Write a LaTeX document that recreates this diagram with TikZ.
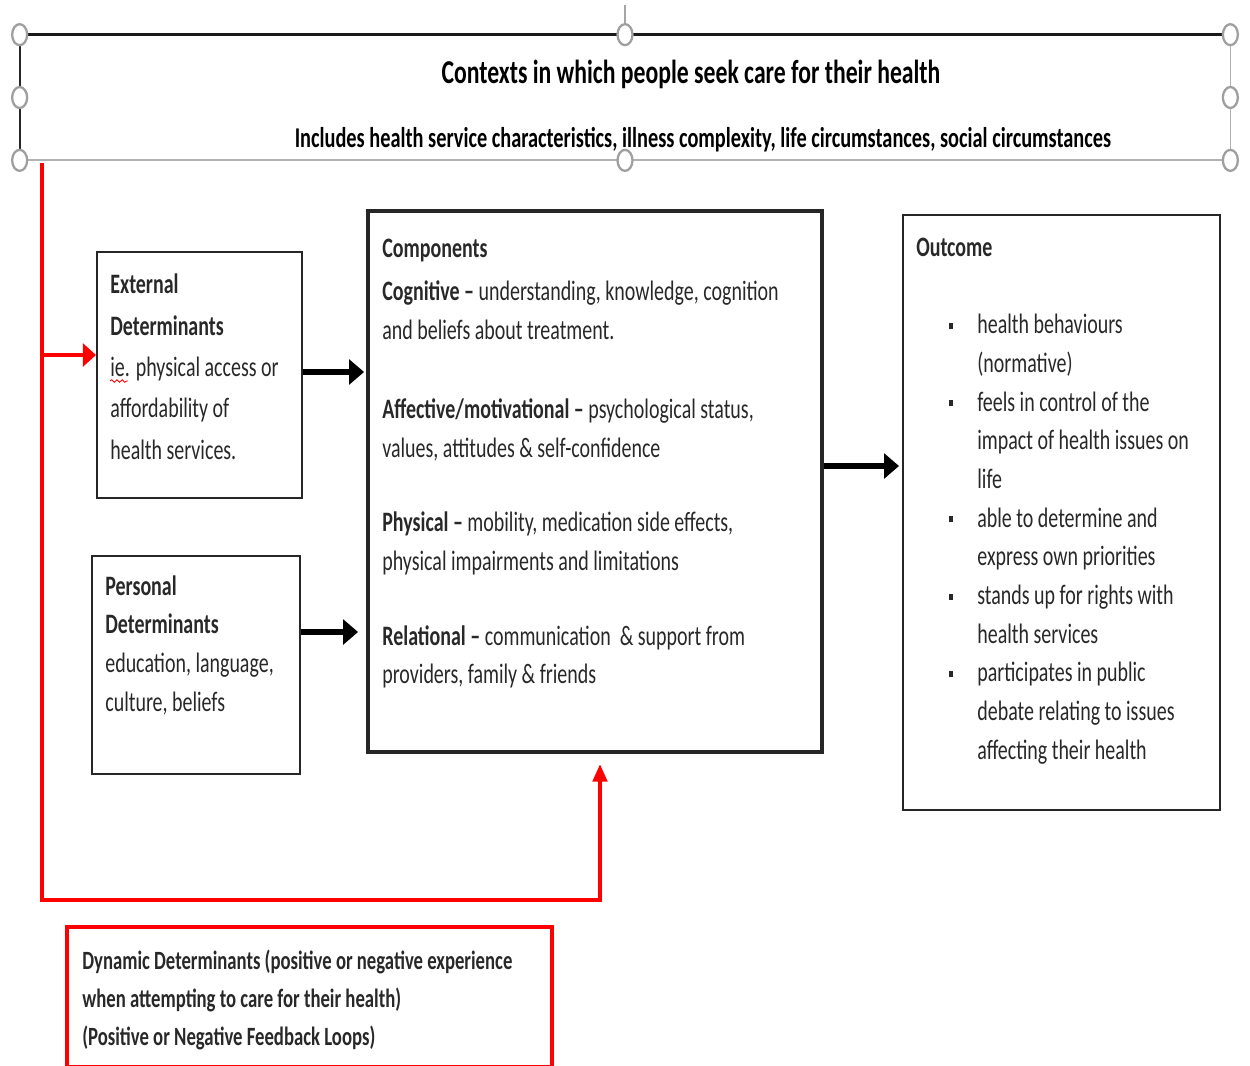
\documentclass[tikz,border=0pt]{standalone}
\usepackage{fontspec}
\setmainfont{Carlito}[FakeStretch=0.71]
\usetikzlibrary{arrows.meta,fit,calc,decorations.pathmorphing}
\tikzset{>={Triangle[length=8.5pt,width=14pt]}}
\definecolor{linered}{RGB}{255,0,0}
\definecolor{textgray}{RGB}{40,40,40}
\newcommand\obul{\llap{\raisebox{0.35ex}{\rule{2.4pt}{3.4pt}}\hspace{13.6pt}}}

\begin{document}
\begin{tikzpicture}[x=0.02cm,y=-0.02cm,
  box/.style={draw=black!85,line width=1.1pt,inner sep=0pt},
  txt/.style={anchor=base west,inner sep=0pt,align=left,text=textgray},
  bigarrow/.style={->,line width=3.5pt,black},
  fb/.style={-{Triangle[length=10pt,width=8pt]},line width=2.4pt,linered},
  handle/.style={draw=gray!75,fill=white,line width=1.3pt}]
\useasboundingbox (0,0) rectangle (1250,1065);
\node[inner sep=0pt,fit={(20,35) (1230,160)}] (ctx) {};
\draw[line width=1.9pt,black!90] (ctx.north west) -- (ctx.north east);
\draw[line width=1pt,black!85] (ctx.north west) -- (ctx.south west);
\draw[line width=1.2pt,gray!60] (ctx.south west) -- (ctx.south east);
\draw[line width=0.8pt,gray!60] (ctx.north east) -- (ctx.south east);
\draw[line width=0.6pt,gray!70] (ctx.north) -- ([yshift=0.6cm]ctx.north);
\foreach \a in {north west,west,south west,north,south,north east,east,south east}
  \draw[handle] (ctx.\a) ellipse [x radius=0.15cm,y radius=0.21cm];
\node[anchor=base,inner sep=0pt,font=\fontsize{19}{23}\selectfont\bfseries] (ctxtitle) at (691,83) {Contexts in which people seek care for their health};
\node[anchor=base,inner sep=0pt,font=\fontsize{16.3}{19}\selectfont\bfseries] (ctxsub) at (703,147) {Includes health service characteristics, illness complexity, life circumstances, social circumstances};

\node[box,fit={(97,252) (302,498)}] (ext) {};
\node[box,fit={(92,556) (300,774)}] (pers) {};
\node[box,line width=2.2pt,fit={(368,211) (822,752)}] (comp) {};
\node[box,fit={(903,215) (1220,810)}] (outc) {};
\node[box,draw=linered,line width=2pt,fit={(67,927) (552,1067)}] (dyn) {};

\node[txt,font=\fontsize{16}{23.5}\selectfont] (extT) at (110,459) {\textbf{External}\\\textbf{Determinants}\\ie. physical access or\\affordability of\\health services.};
\draw[linered,line width=0.5pt,decorate,decoration={snake,amplitude=0.7pt,segment length=3pt}] (110,381) -- (128,381);
\node[txt,font=\fontsize{16}{22}\selectfont] (persT) at (105,711) {\textbf{Personal}\\\textbf{Determinants}\\education, language,\\culture, beliefs};
\node[txt,font=\fontsize{16}{22.1}\selectfont] (compT) at (382,683) {\textbf{Components}\\[2.3pt]
\textbf{Cognitive –} understanding, knowledge, cognition\\
and beliefs about treatment.\\[23.2pt]
\textbf{Affective/motivational –} psychological status,\\
values, attitudes \& self-confidence\\[19.8pt]
\textbf{Physical –} mobility, medication side effects,\\
physical impairments and limitations\\[21pt]
\textbf{Relational –} communication \ \& support from\\[-1pt]
providers, family \& friends};
\node[txt,font=\fontsize{16}{22}\selectfont\bfseries] (outcT) at (916,256) {Outcome};
\node[txt,font=\fontsize{16}{22}\selectfont] (outcL) at (977,759) {\obul health behaviours\\
(normative)\\
\obul feels in control of the\\
impact of health issues on\\
life\\
\obul able to determine and\\
express own priorities\\
\obul stands up for rights with\\
health services\\
\obul participates in public\\
debate relating to issues\\
affecting their health};
\node[txt,font=\fontsize{15}{21.5}\selectfont\bfseries] (dynT) at (82,1045) {Dynamic Determinants (positive or negative experience\\
when attempting to care for their health)\\
(Positive or Negative Feedback Loops)};

\draw[bigarrow,shorten >=0.04cm] ([yshift=0.06cm]ext.east) -- ([yshift=0.06cm]ext.east -| comp.west);
\draw[bigarrow,shorten >=0.16cm] ([yshift=0.66cm]pers.east) -- ([yshift=0.66cm]pers.east -| comp.west);
\draw[bigarrow,shorten >=0.06cm] ([yshift=0.31cm]comp.east) -- ([yshift=0.31cm]comp.east -| outc.west);

\coordinate (fbtop) at (42,163);
\coordinate (fbcorner) at (42,900);
\coordinate (extin) at ([yshift=0.4cm]ext.west);
\draw[fb,shorten >=0.2cm] (fbtop) -- (fbcorner) -| ([xshift=0.1cm]comp.south);
\draw[fb,-{Triangle[length=7.5pt,width=13pt]}] (fbtop |- extin) -- (extin);
\end{tikzpicture}
\end{document}
